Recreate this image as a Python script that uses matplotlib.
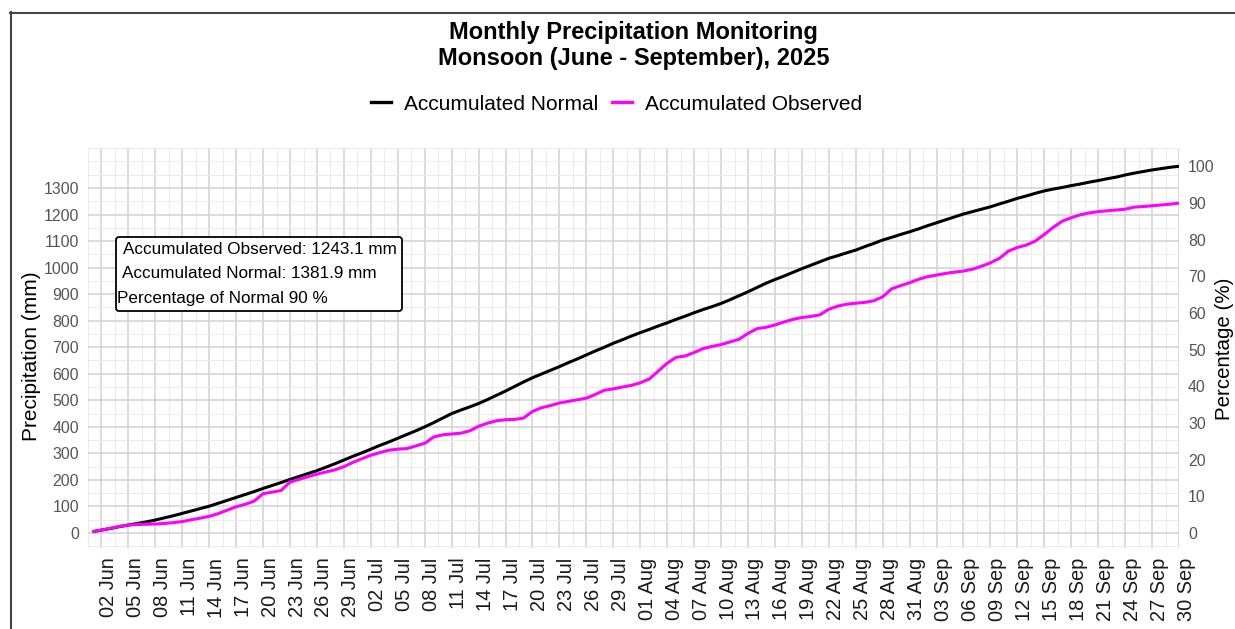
import numpy as np
import pandas as pd
import matplotlib
matplotlib.use('Agg')
import matplotlib.pyplot as plt
import matplotlib.dates as mdates
import matplotlib.transforms as mtransforms
from matplotlib.patches import FancyBboxPatch
from matplotlib.lines import Line2D

plt.rcParams['font.family'] = ['Liberation Sans', 'DejaVu Sans']

# daily dates of the monsoon season
dates = pd.date_range('2025-06-01', '2025-09-30', freq='D')

# accumulated normal (mm)
normal_jun = [5, 11, 17, 24, 30, 36, 42, 49, 57, 65,
              74, 83, 92, 101, 112, 123, 134, 145, 156, 168,
              179, 190, 202, 213, 224, 235, 248, 261, 275, 289]
normal_jul = [302, 316, 330, 343, 357, 371, 385, 400, 416, 433,
              450, 463, 475, 488, 503, 519, 535, 552, 569, 585,
              599, 613, 627, 642, 656, 671, 686, 700, 715, 728, 742]
normal_aug = [755, 767, 780, 792, 805, 817, 830, 842, 853, 865,
              879, 894, 909, 925, 941, 955, 968, 982, 996, 1009,
              1022, 1035, 1045, 1056, 1066, 1079, 1091, 1104, 1114, 1125, 1135]
normal_sep = [1146, 1158, 1169, 1180, 1191, 1202, 1211, 1220, 1229, 1240,
              1250, 1261, 1270, 1280, 1289, 1296, 1302, 1309, 1315, 1322,
              1328, 1335, 1341, 1349, 1356, 1362, 1368, 1373, 1378, 1381.9]

# accumulated observed (mm)
obs_jun = [5, 11, 18, 25, 30, 32, 33, 34, 36, 39,
           43, 50, 56, 63, 73, 86, 99, 108, 120, 148,
           154, 160, 192, 202, 212, 222, 230, 238, 250, 266]
obs_jul = [280, 293, 303, 312, 316, 318, 328, 338, 362, 370,
           373, 376, 385, 402, 414, 423, 427, 428, 433, 458,
           472, 480, 490, 496, 502, 508, 522, 538, 543, 550, 556]
obs_aug = [566, 580, 610, 640, 662, 667, 680, 695, 703, 710,
           720, 730, 752, 770, 775, 784, 795, 805, 812, 816,
           822, 843, 855, 862, 866, 869, 875, 890, 920, 932, 943]
obs_sep = [956, 966, 972, 978, 983, 987, 994, 1005, 1018, 1035,
           1062, 1076, 1085, 1100, 1125, 1152, 1175, 1188, 1199, 1206,
           1211, 1214, 1217, 1220, 1228, 1230, 1233, 1236, 1239, 1243.1]

normal = np.array(normal_jun + normal_jul + normal_aug + normal_sep)
observed = np.array(obs_jun + obs_jul + obs_aug + obs_sep)

total_obs = 1243.1
total_norm = 1381.9
pct_norm = 90

mm_ticks = list(range(0, 1301, 100))
pct_ticks = list(range(0, 101, 10))
tick_dates = pd.date_range('2025-06-02', '2025-09-30', freq='3D')

fig = plt.figure(figsize=(12.35, 6.29), dpi=100)
W, H = 1235, 629
ax = fig.add_axes([88 / W, 1 - 548 / H, (1179 - 88) / W, (548 - 148) / H])

xd = mdates.date2num(dates)
ax.plot(xd, normal, color='black', lw=2.2, solid_capstyle='butt', zorder=3)
ax.plot(xd, observed, color='#ff00ff', lw=2.2, solid_capstyle='butt', zorder=3)

ax.set_xlim(xd[0], xd[-1])
ax.set_ylim(-56.5, 1450.7)

major_x = mdates.date2num(tick_dates)
ax.set_xticks(major_x)
ax.set_xticks(major_x - 1.5, minor=True)
ax.set_xticklabels([d.strftime('%d %b') for d in tick_dates], rotation=90,
                   fontsize=14.4, color='#1a1a1a', va='top', ha='center')
ax.set_yticks(mm_ticks)
ax.set_yticks(np.arange(-50, 1451, 50), minor=True)
ax.tick_params(axis='both', which='both', length=0)
ax.tick_params(axis='y', labelsize=11.4, labelcolor='#555555', pad=6.5)
ax.tick_params(axis='x', pad=7)

off = mtransforms.ScaledTranslation(7 / 100, 0, fig.dpi_scale_trans)
for lab in ax.get_xticklabels():
    lab.set_transform(lab.get_transform() + off)

ax.grid(which='major', color='#d2d2d2', lw=1.1)
ax.grid(which='minor', color='#ebebeb', lw=0.7)
ax.set_axisbelow(True)
for s in ax.spines.values():
    s.set_visible(False)

ax2 = ax.twinx()
lo, hi = ax.get_ylim()
ax2.set_ylim(lo / total_norm * 100, hi / total_norm * 100)
ax2.set_yticks(pct_ticks)
ax2.tick_params(axis='y', length=0, labelsize=11.4, labelcolor='#555555', pad=6.5)
for s in ax2.spines.values():
    s.set_visible(False)

# axis titles
fig.text(32 / W, 1 - 356 / H, 'Precipitation (mm)', rotation=90, fontsize=15,
         ha='center', va='center')
fig.text(1224 / W, 1 - 349 / H, 'Percentage (%)', rotation=90, fontsize=14.8,
         ha='center', va='center')

# title
fig.text(633.5 / W, 1 - 33 / H, 'Monthly Precipitation Monitoring', fontsize=17,
         fontweight='bold', ha='center', va='center')
fig.text(633.5 / W, 1 - 58 / H, 'Monsoon (June - September), 2025', fontsize=17,
         fontweight='bold', ha='center', va='center')

# legend
handles = [Line2D([], [], color='black', lw=2.4),
           Line2D([], [], color='#ff00ff', lw=2.4)]
fig.legend(handles, ['Accumulated Normal', 'Accumulated Observed'], loc='center',
           bbox_to_anchor=(616.5 / W, 1 - 104 / H), ncol=2, frameon=False,
           fontsize=15, handlelength=1.0, handletextpad=0.62, columnspacing=0.62)

# summary box
box = FancyBboxPatch((1.16, (H - 311) / 100), 2.86, 0.74,
                     boxstyle='round,pad=0,rounding_size=0.03',
                     transform=fig.dpi_scale_trans, facecolor='white',
                     edgecolor='black', lw=1.3, zorder=5)
fig.add_artist(box)
fig.text(1.23, (H - 249) / 100, f'Accumulated Observed: {total_obs} mm', fontsize=12.3,
         transform=fig.dpi_scale_trans, ha='left', va='center', zorder=6)
fig.text(1.22, (H - 274) / 100, f'Accumulated Normal: {total_norm} mm', fontsize=12.3,
         transform=fig.dpi_scale_trans, ha='left', va='center', zorder=6)
fig.text(1.17, (H - 299) / 100, f'Percentage of Normal {pct_norm} %', fontsize=12.3,
         transform=fig.dpi_scale_trans, ha='left', va='center', zorder=6)

# outer frame (left and top edges)
fig.add_artist(Line2D([10.5 / W, 10.5 / W], [0, 1 - 12 / H], color='#444444', lw=1.5,
                      transform=fig.transFigure))
fig.add_artist(Line2D([10 / W, 1], [1 - 12.5 / H, 1 - 12.5 / H], color='#444444', lw=1.5,
                      transform=fig.transFigure))

fig.savefig('out.png', dpi=100)
